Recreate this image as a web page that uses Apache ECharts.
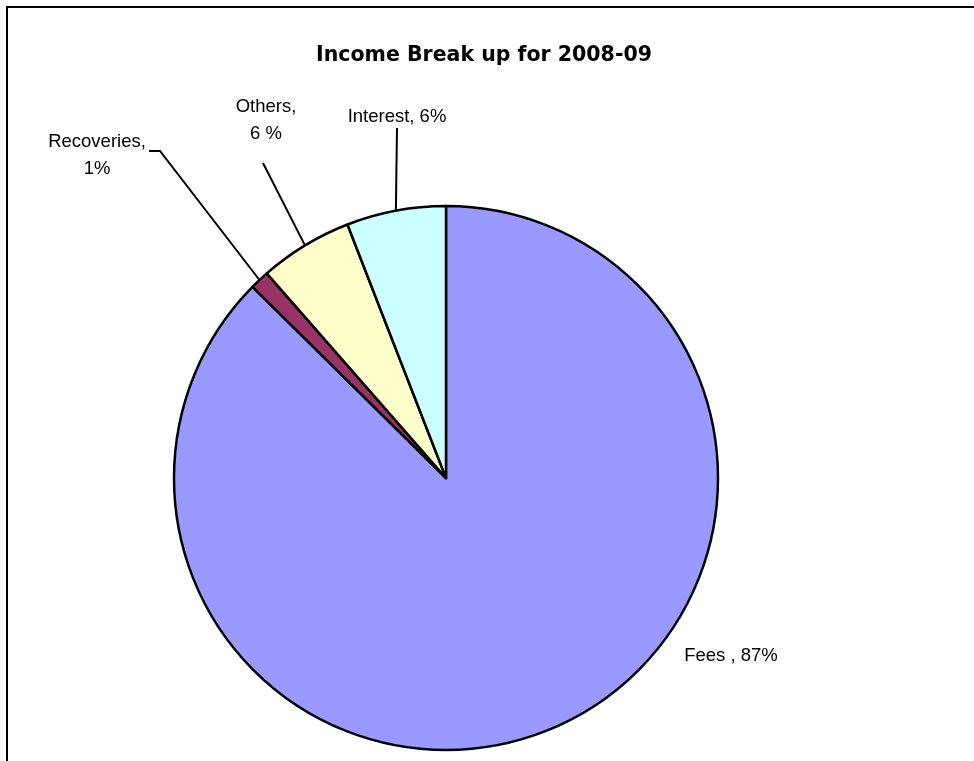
<!DOCTYPE html>
<html>
<head>
<meta charset="utf-8">
<script src="https://cdn.jsdelivr.net/npm/echarts@6/dist/echarts.min.js"></script>
<style>
html,body{margin:0;padding:0;background:#fff;overflow:hidden}
#c{position:absolute;left:0;top:0;width:974px;height:761px}
#frame{position:absolute;left:6px;top:6px;width:1000px;height:800px;border-left:2px solid #000;border-top:2px solid #000;pointer-events:none}
</style>
</head>
<body>
<div id="c"></div>
<div id="frame"></div>
<script>
// ---- data ----
const categories = ['Fees', 'Recoveries', 'Others', 'Interest'];
const values = [87.4, 1.15, 5.55, 5.9];
const labelTexts = ['Fees , 87%', 'Recoveries,\n1%', 'Others,\n6 %', 'Interest, 6%'];
const colors = ['#9999FF', '#993366', '#FFFFCC', '#CCFFFF'];

// ---- label placement (text positions and leader-line bends) ----
const labelCenters = [[731, 656], [97, 155], [266, 120], [397, 117]];
const leaderEnds = [null, [[160, 151], [149, 151]], [[263, 163]], [[397, 128]]];

const labelFont = "'Liberation Sans Narrow', 'Arial Narrow', 'Liberation Sans', Arial, sans-serif";

const chart = echarts.init(document.getElementById('c'), null, {renderer: 'canvas'});

const data = categories.map((name, i) => ({
  name: name,
  value: values[i],
  itemStyle: {color: colors[i]},
  labelLine: {show: i !== 0}
}));

chart.setOption({
  animation: false,
  backgroundColor: '#ffffff',
  title: {
    text: 'Income Break up for 2008-09',
    left: 479,
    top: 40,
    textAlign: 'center',
    textStyle: {
      fontFamily: "'DejaVu Sans', sans-serif",
      fontWeight: 'bold',
      fontSize: 20.5,
      color: '#000'
    }
  },
  series: [{
    type: 'pie',
    center: [446, 478],
    radius: 272,
    startAngle: 90,
    clockwise: true,
    avoidLabelOverlap: false,
    silent: true,
    emphasis: {disabled: true},
    itemStyle: {borderColor: '#000', borderWidth: 2.5},
    label: {
      show: true,
      position: 'outside',
      formatter: p => labelTexts[p.dataIndex],
      fontFamily: labelFont,
      fontSize: 18.5,
      lineHeight: 27,
      color: '#000',
      align: 'center'
    },
    labelLine: {
      show: true,
      length: 10,
      length2: 10,
      lineStyle: {color: '#000', width: 2}
    },
    labelLayout: function (params) {
      const i = params.dataIndex;
      const c = labelCenters[i];
      const out = {x: c[0], y: c[1], align: 'center', verticalAlign: 'middle'};
      if (leaderEnds[i] && params.labelLinePoints && params.labelLinePoints.length) {
        out.labelLinePoints = [params.labelLinePoints[0]].concat(leaderEnds[i]);
      }
      return out;
    },
    data: data
  }]
});
</script>
</body>
</html>
